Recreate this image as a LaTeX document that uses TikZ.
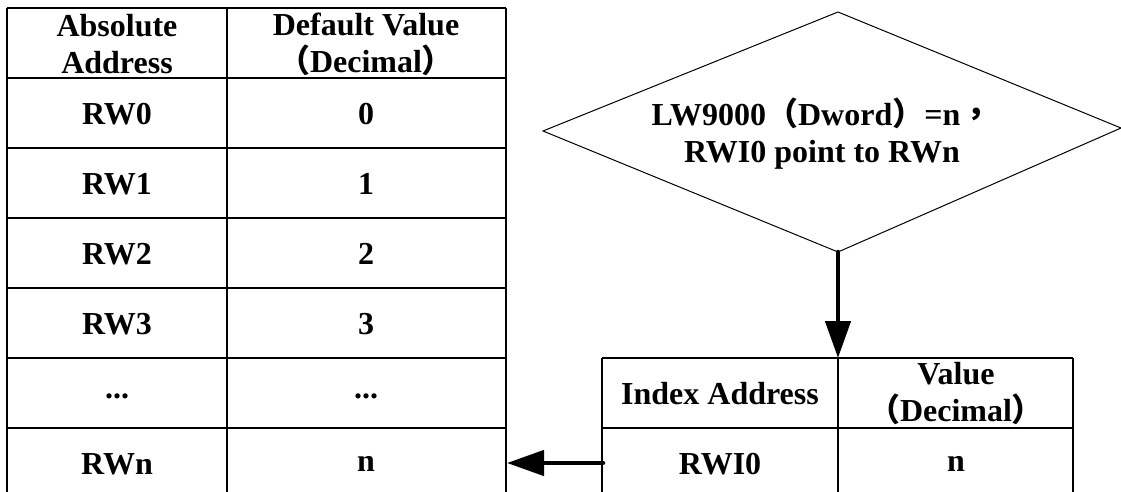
\documentclass[tikz,border=0pt]{standalone}
\usepackage{fontspec}
\setmainfont{Liberation Serif}
\newfontfamily\cjkfont{Noto Sans CJK TC}
\newcommand\cjkc[1]{{\cjkfont #1}}
\usetikzlibrary{arrows.meta}
\tikzset{
  grid/.style={line width=1.3pt, draw=black},
  cell/.style={font=\bfseries\fontsize{32}{37}\selectfont, align=center, inner sep=0pt},
  bigarrow/.style={line width=4.5pt, line cap=round, -{Triangle[length=37pt,width=25pt]}},
  dia/.style={line width=1pt, draw=black}
}
\begin{document}
\begin{tikzpicture}[x=1pt,y=-1pt]
\useasboundingbox (0,0) rectangle (1121,492);
% left table
\foreach \y in {8,78,148,218,288,358,428} \draw[grid] (7,\y) -- (506,\y);
\foreach \x in {7,227,506} \draw[grid] (\x,8) -- (\x,492);
\node[cell] (h1) at (117,44) {Absolute\\Address};
\node[cell] (h2) at (366,44) {Default Value\\\cjkc{（}Decimal\cjkc{）}};
\node[cell] (a0) at (117,114) {RW0};
\node[cell] (v0) at (366,114) {0};
\node[cell] (a1) at (117,184) {RW1};
\node[cell] (v1) at (366,184) {1};
\node[cell] (a2) at (117,254) {RW2};
\node[cell] (v2) at (366,254) {2};
\node[cell] (a3) at (117,324) {RW3};
\node[cell] (v3) at (366,324) {3};
\node[cell] (a4) at (117,396) {...};
\node[cell] (v4) at (366,396) {...};
\node[cell] (an) at (117,464) {RWn};
\node[cell] (vn) at (366,464) {n};
% right table
\foreach \y in {358,428} \draw[grid] (602,\y) -- (1073,\y);
\foreach \x in {602,838,1073} \draw[grid] (\x,358) -- (\x,492);
\node[cell] (ih) at (720,394) {Index Address};
\node[cell] (vh) at (956,394) {Value\\\cjkc{（}Decimal\cjkc{）}};
\node[cell] (ir) at (720,464) {RWI0};
\node[cell] (vr) at (956,464) {n};
\coordinate (rtop) at (838,358);
\coordinate (rleft) at (603,463);
\coordinate (ltip) at (507,463);
% diamond
\coordinate (dl) at (543,131);
\coordinate (dt) at (838,12);
\coordinate (dr) at (1121,128);
\coordinate (db) at (838,252);
\draw[dia] (dl) -- (dt) -- (dr) -- (db) -- cycle;
\node[cell] (dtext) at (822,134) {LW9000\cjkc{（}Dword\cjkc{）}=n\cjkc{，}\\RWI0 point to RWn};
% arrows
\draw[bigarrow] (db) -- (rtop);
\draw[bigarrow] (rleft) -- (ltip);
\end{tikzpicture}
\end{document}
